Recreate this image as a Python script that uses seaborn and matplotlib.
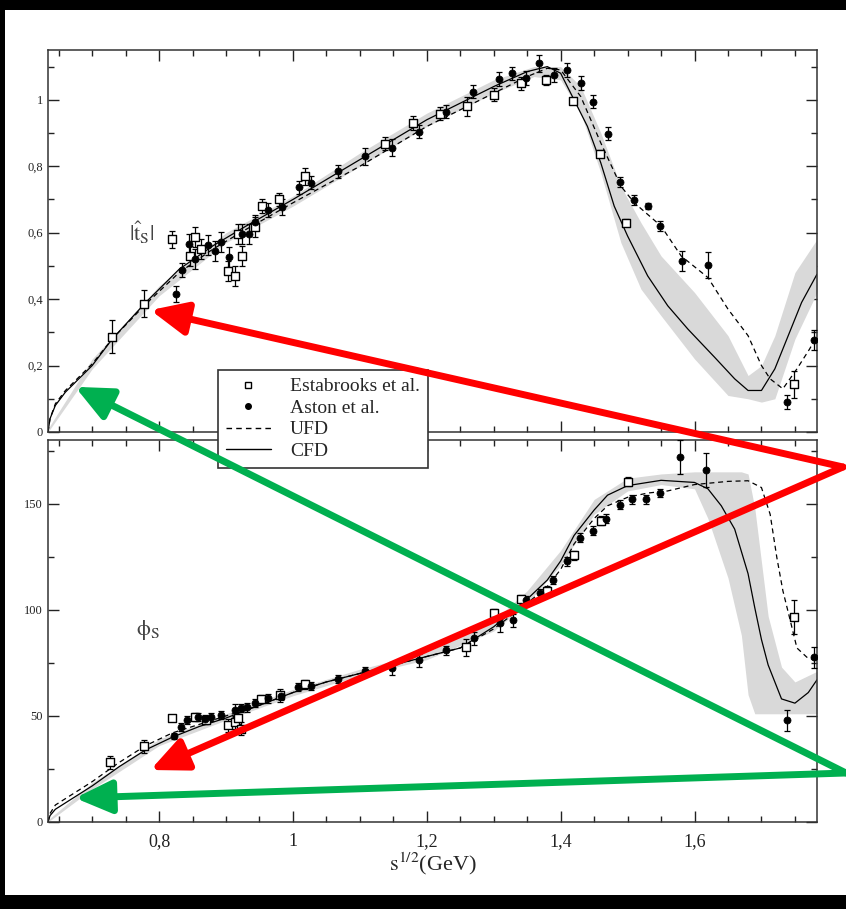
import numpy as np
import matplotlib
matplotlib.use('Agg')
import matplotlib.pyplot as plt
from matplotlib.patches import Rectangle, ConnectionPatch
from matplotlib.lines import Line2D
from matplotlib.ticker import MultipleLocator, FuncFormatter
import seaborn as sns

# ---- |t_S| panel data ----
top_est_x = [0.730, 0.778, 0.819, 0.846, 0.853, 0.862, 0.903, 0.913, 0.918, 0.924, 0.943, 0.954, 0.979,
             1.018, 1.138, 1.179, 1.219, 1.260, 1.300, 1.341, 1.378, 1.419, 1.459, 1.498, 1.749]
top_est_y = [0.287, 0.386, 0.580, 0.530, 0.587, 0.550, 0.485, 0.470, 0.596, 0.530, 0.617, 0.680, 0.700,
             0.770, 0.868, 0.930, 0.958, 0.980, 1.015, 1.050, 1.060, 0.997, 0.838, 0.630, 0.143]
top_est_e = [0.05, 0.04, 0.025, 0.03, 0.03, 0.03, 0.03, 0.03, 0.03, 0.03, 0.03, 0.02, 0.02,
             0.025, 0.02, 0.02, 0.02, 0.03, 0.02, 0.02, 0.015, 0.01, 0.01, 0.01, 0.04]

top_ast_x = [0.825, 0.834, 0.844, 0.853, 0.873, 0.883, 0.892, 0.904, 0.924, 0.934, 0.943, 0.963, 0.984,
             1.009, 1.027, 1.068, 1.108, 1.148, 1.189, 1.229, 1.269, 1.308, 1.327, 1.348, 1.367, 1.390,
             1.410, 1.431, 1.449, 1.470, 1.489, 1.509, 1.530, 1.549, 1.581, 1.620, 1.738, 1.779]
top_ast_y = [0.416, 0.488, 0.566, 0.521, 0.563, 0.545, 0.572, 0.527, 0.596, 0.596, 0.632, 0.668, 0.677,
             0.737, 0.751, 0.785, 0.830, 0.856, 0.904, 0.964, 1.024, 1.063, 1.080, 1.066, 1.110, 1.075,
             1.090, 1.051, 0.994, 0.898, 0.754, 0.698, 0.680, 0.620, 0.515, 0.503, 0.090, 0.276]
top_ast_e = [0.025, 0.02, 0.03, 0.03, 0.03, 0.03, 0.03, 0.03, 0.03, 0.03, 0.02, 0.02, 0.025,
             0.02, 0.02, 0.02, 0.025, 0.025, 0.02, 0.02, 0.02, 0.02, 0.02, 0.02, 0.025, 0.02,
             0.02, 0.02, 0.02, 0.02, 0.015, 0.015, 0.01, 0.015, 0.03, 0.04, 0.02, 0.03]

top_cfd_x = [0.634, 0.637, 0.645, 0.66, 0.68, 0.70, 0.73, 0.78, 0.83, 0.88, 0.93, 1.00, 1.05, 1.10, 1.15,
             1.20, 1.25, 1.30, 1.35, 1.38, 1.40, 1.42, 1.44, 1.46, 1.48, 1.50, 1.53, 1.56, 1.59, 1.63,
             1.66, 1.68, 1.70, 1.72, 1.74, 1.76, 1.783]
top_cfd_y = [0.0, 0.04, 0.08, 0.12, 0.16, 0.20, 0.28, 0.39, 0.49, 0.56, 0.62, 0.70, 0.76, 0.82, 0.88,
             0.94, 0.99, 1.04, 1.085, 1.10, 1.08, 1.00, 0.92, 0.81, 0.68, 0.59, 0.47, 0.38, 0.31, 0.225,
             0.16, 0.125, 0.125, 0.19, 0.29, 0.39, 0.475]

top_ufd_x = [0.634, 0.637, 0.645, 0.66, 0.68, 0.70, 0.73, 0.78, 0.83, 0.88, 0.93, 1.00, 1.05, 1.10, 1.15,
             1.20, 1.25, 1.30, 1.35, 1.38, 1.40, 1.43, 1.46, 1.49, 1.51, 1.55, 1.58, 1.62, 1.65, 1.68,
             1.70, 1.713, 1.732, 1.753, 1.772, 1.783]
top_ufd_y = [0.0, 0.04, 0.085, 0.125, 0.165, 0.205, 0.28, 0.385, 0.48, 0.55, 0.61, 0.69, 0.745, 0.80, 0.86,
             0.92, 0.97, 1.02, 1.07, 1.095, 1.09, 1.01, 0.87, 0.74, 0.69, 0.62, 0.53, 0.465, 0.37, 0.29,
             0.20, 0.16, 0.13, 0.19, 0.25, 0.29]

top_band_x = [0.634, 0.70, 0.80, 0.90, 1.00, 1.10, 1.20, 1.30, 1.36, 1.40, 1.43, 1.46, 1.49, 1.52, 1.55,
              1.60, 1.65, 1.68, 1.70, 1.72, 1.75, 1.783]
top_band_lo = [0.0, 0.19, 0.41, 0.57, 0.68, 0.80, 0.92, 1.02, 1.07, 1.06, 0.96, 0.78, 0.57, 0.43, 0.35,
               0.22, 0.11, 0.10, 0.09, 0.10, 0.28, 0.42]
top_band_hi = [0.01, 0.22, 0.44, 0.60, 0.71, 0.84, 0.96, 1.06, 1.10, 1.10, 1.04, 0.90, 0.74, 0.63, 0.53,
               0.42, 0.29, 0.17, 0.20, 0.29, 0.48, 0.58]

# ---- phi_S panel data ----
bot_est_x = [0.727, 0.778, 0.819, 0.853, 0.870, 0.903, 0.913, 0.918, 0.922, 0.952, 0.980, 1.018,
             1.258, 1.300, 1.340, 1.380, 1.420, 1.460, 1.500, 1.749]
bot_est_y = [28.2, 35.7, 48.9, 49.4, 48.0, 45.6, 47.0, 49.0, 44.0, 58.0, 59.7, 64.9,
             82.4, 98.4, 105.0, 109.0, 125.6, 142.0, 160.4, 96.4]
bot_est_e = [3, 3, 1.5, 2, 2, 3, 3, 3, 3, 2, 3, 2, 4, 2, 2, 2, 2, 2, 2, 8]

bot_ast_x = [0.823, 0.832, 0.842, 0.858, 0.868, 0.877, 0.892, 0.913, 0.922, 0.932, 0.943, 0.963, 0.982,
             1.007, 1.027, 1.068, 1.108, 1.148, 1.188, 1.228, 1.270, 1.310, 1.329, 1.348, 1.369, 1.389,
             1.410, 1.429, 1.449, 1.468, 1.489, 1.507, 1.528, 1.548, 1.579, 1.617, 1.738, 1.779]
bot_ast_y = [40.4, 44.7, 48.0, 49.4, 48.4, 49.4, 50.3, 52.7, 53.6, 54.0, 56.0, 58.3, 59.3,
             63.5, 64.0, 67.3, 71.0, 72.4, 76.2, 80.9, 86.5, 93.6, 95.0, 104.4, 107.7, 114.0,
             122.8, 134.0, 137.3, 143.0, 149.6, 152.0, 152.0, 155.0, 172.0, 166.0, 48.0, 77.6]
bot_ast_e = [1.5, 2, 2, 2, 2, 2, 2, 3, 2, 2, 2, 2, 2, 2, 2, 2, 2, 3, 3, 2, 3, 4, 3, 2, 2, 2,
             2, 2, 2, 2, 2, 2, 2, 2, 8, 8, 5, 5]

bot_cfd_x = [0.634, 0.637, 0.645, 0.66, 0.68, 0.70, 0.74, 0.78, 0.82, 0.86, 0.90, 0.95, 1.00, 1.05,
             1.10, 1.15, 1.20, 1.25, 1.30, 1.35, 1.38, 1.40, 1.42, 1.45, 1.47, 1.50, 1.55, 1.60, 1.62,
             1.64, 1.66, 1.68, 1.69, 1.70, 1.71, 1.73, 1.75, 1.77, 1.783]
bot_cfd_y = [0, 3, 6, 9, 13, 17, 26, 34, 40, 45, 49, 55, 61, 66,
             70, 74, 78, 82, 92, 105, 114, 123, 135, 147, 154, 158.5, 161, 160, 157,
             149, 138, 117, 101, 86, 74, 58, 56, 61, 67]

bot_ufd_x = [0.634, 0.637, 0.645, 0.66, 0.68, 0.70, 0.74, 0.78, 0.82, 0.86, 0.90, 0.95, 1.00, 1.05,
             1.10, 1.15, 1.20, 1.25, 1.30, 1.35, 1.38, 1.40, 1.42, 1.45, 1.47, 1.50, 1.53, 1.56, 1.60,
             1.65, 1.68, 1.70, 1.713, 1.723, 1.732, 1.743, 1.753, 1.768, 1.783]
bot_ufd_y = [0, 4, 8, 11, 15, 19, 28, 36, 42, 46, 50, 55, 61, 66,
             70, 74, 78, 82, 91, 103, 111, 119, 131, 143, 149, 153, 155, 156, 159,
             160.5, 160.8, 157.6, 145, 124.6, 109, 95, 82, 77.6, 76]

bot_band_x = [0.634, 0.70, 0.80, 0.90, 1.00, 1.10, 1.20, 1.30, 1.35, 1.40, 1.45, 1.50, 1.55, 1.60,
              1.62, 1.65, 1.67, 1.68, 1.69, 1.71, 1.73, 1.75, 1.783]
bot_band_lo = [0, 15.5, 36, 48, 59.5, 69, 76.5, 90, 103, 121, 145, 156, 159, 157,
               143, 115, 88, 60, 51, 51, 51, 51, 51]
bot_band_hi = [1, 18.5, 39, 51, 62.5, 72, 80, 95, 109, 128, 152, 162, 164, 165,
               165, 165, 165, 164, 148, 97, 73, 66, 71]

sns.set_style('ticks')
plt.rcParams['font.family'] = ['Liberation Serif', 'DejaVu Serif']
plt.rcParams['mathtext.fontset'] = 'stix'

W, H = 846, 909
fig = plt.figure(figsize=(W / 100, H / 100), dpi=100, facecolor='black')
fig.add_artist(Rectangle((5 / W, 14 / H), 841 / W, 885 / H, transform=fig.transFigure,
                         facecolor='white', edgecolor='none', zorder=-5))

ax1 = fig.add_axes([48 / W, 1 - 432 / H, 769 / W, 382 / H])
ax2 = fig.add_axes([48 / W, 1 - 822 / H, 769 / W, 382 / H])


def draw_panel(ax, bx, blo, bhi, cx, cy, ux, uy, ex, ey, ee, axx, ay, ae):
    ax.fill_between(bx, blo, bhi, color='#d9d9d9', lw=0, zorder=1)
    sns.lineplot(x=cx, y=cy, ax=ax, color='black', lw=0.9, sort=False, estimator=None, zorder=2)
    sns.lineplot(x=ux, y=uy, ax=ax, color='black', lw=0.9, sort=False, estimator=None,
                 linestyle=(0, (4, 3)), zorder=2)
    ax.errorbar(ex, ey, yerr=ee, fmt='none', ecolor='black', elinewidth=0.9, capsize=2.5,
                capthick=0.9, zorder=3)
    ax.errorbar(axx, ay, yerr=ae, fmt='none', ecolor='black', elinewidth=0.9, capsize=2.5,
                capthick=0.9, zorder=3)
    sns.scatterplot(x=ex, y=ey, ax=ax, marker='s', s=30, color='white', edgecolor='black',
                    linewidth=1.0, zorder=4)
    sns.scatterplot(x=axx, y=ay, ax=ax, marker='o', s=26, color='black', edgecolor='black',
                    linewidth=0.5, zorder=4)
    ax.set_xlim(0.634, 1.783)
    ax.xaxis.set_major_locator(MultipleLocator(0.2))
    ax.xaxis.set_minor_locator(MultipleLocator(0.05))
    ax.tick_params(which='both', direction='in', top=True, right=True, width=1.0, colors='#222')
    ax.tick_params(which='major', length=8)
    ax.tick_params(which='minor', length=4)
    for s in ax.spines.values():
        s.set_linewidth(1.1)
        s.set_color('#333')
    ax.set_xlabel('')
    ax.set_ylabel('')


comma = lambda v, p: ('%g' % round(v, 3)).replace('.', ',')

draw_panel(ax1, top_band_x, top_band_lo, top_band_hi, top_cfd_x, top_cfd_y, top_ufd_x, top_ufd_y,
           top_est_x, top_est_y, top_est_e, top_ast_x, top_ast_y, top_ast_e)
ax1.set_ylim(0, 1.15)
ax1.yaxis.set_major_locator(MultipleLocator(0.2))
ax1.yaxis.set_minor_locator(MultipleLocator(0.1))
ax1.yaxis.set_major_formatter(FuncFormatter(comma))
ax1.tick_params(labelbottom=False, labelsize=9)
ax1.text(0.105, 0.50, r'$|\hat{\mathrm{t}}_{\mathrm{S}}|$', transform=ax1.transAxes,
         fontsize=16, color='#444')

draw_panel(ax2, bot_band_x, bot_band_lo, bot_band_hi, bot_cfd_x, bot_cfd_y, bot_ufd_x, bot_ufd_y,
           bot_est_x, bot_est_y, bot_est_e, bot_ast_x, bot_ast_y, bot_ast_e)
ax2.set_ylim(0, 180)
ax2.yaxis.set_major_locator(MultipleLocator(50))
ax2.yaxis.set_minor_locator(MultipleLocator(25))
ax2.xaxis.set_major_formatter(FuncFormatter(comma))
ax2.tick_params(axis='y', labelsize=9)
ax2.tick_params(axis='x', labelsize=13, pad=8)
ax2.text(0.115, 0.49, r'$\mathrm{\phi}_{\mathrm{S}}$', transform=ax2.transAxes, fontsize=16,
         color='#444')
ax2.set_xlabel(r'$\mathrm{s}^{1/2}$(GeV)', fontsize=16, labelpad=0)

handles = [
    Line2D([], [], marker='s', ms=5, mfc='white', mec='black', ls='none'),
    Line2D([], [], marker='o', ms=4, mfc='black', mec='black', ls='none'),
    Line2D([], [], color='black', lw=1, linestyle=(0, (4, 3))),
    Line2D([], [], color='black', lw=1),
]
leg = fig.legend(handles, ['Estabrooks et al.', 'Aston et al.', 'UFD', 'CFD'],
                 loc='upper left', bbox_to_anchor=(218 / W, 1 - 370 / H), borderaxespad=0,
                 fontsize=14, frameon=True, fancybox=False, framealpha=1, edgecolor='#333',
                 handlelength=2.3, labelspacing=0.2, borderpad=0.4, handletextpad=1.0)
leg.get_frame().set_linewidth(1.2)
leg.set_zorder(8)

# annotation arrows
arrow_style = '-|>,head_length=1.1,head_width=0.5'
for tail, head, axh, col in [
    ((843 / W, 1 - 467 / H), (0.787, 0.367), ax1, '#ff0000'),
    ((843 / W, 1 - 467 / H), (0.787, 24.5), ax2, '#ff0000'),
    ((846 / W, 1 - 773 / H), (0.6745, 0.136), ax1, '#00b050'),
    ((846 / W, 1 - 773 / H), (0.6745, 11.3), ax2, '#00b050'),
]:
    con = ConnectionPatch(xyA=tail, coordsA='figure fraction', xyB=head, coordsB='data', axesB=axh,
                          arrowstyle=arrow_style, mutation_scale=20, lw=5, color=col,
                          shrinkA=0, shrinkB=0, zorder=10)
    con.set_clip_on(False)
    fig.add_artist(con)

fig.savefig('out.png', dpi=100, facecolor=fig.get_facecolor())
